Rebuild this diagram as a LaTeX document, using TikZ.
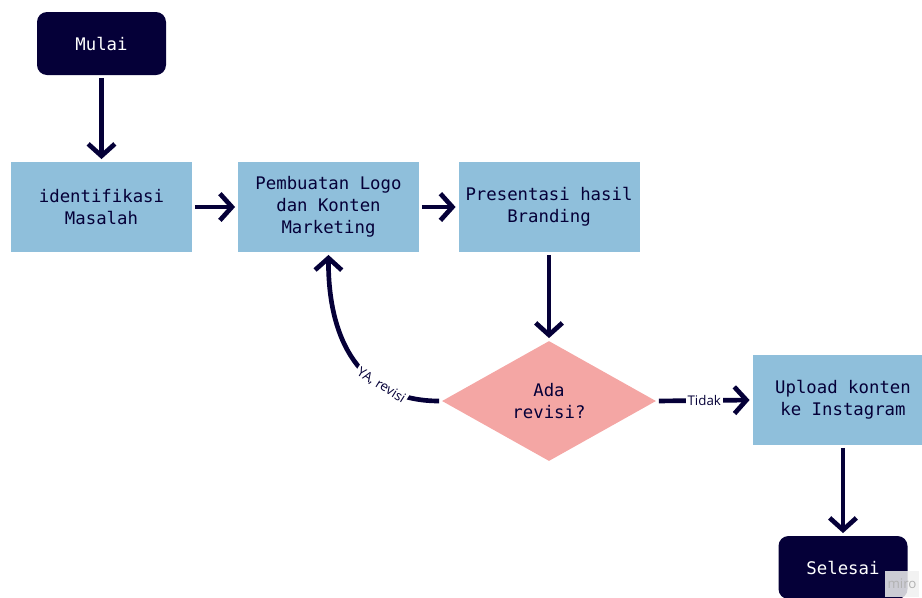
\documentclass[tikz,border=0pt]{standalone}
\usepackage{fontspec}
\setmainfont{Open Sans}
\setmonofont{DejaVu Sans Mono}
\usetikzlibrary{arrows.meta,shapes.geometric}
\definecolor{navy}{HTML}{050038}
\definecolor{lblue}{HTML}{8FBFDB}
\definecolor{salmon}{HTML}{F4A6A4}
\begin{document}
\begin{tikzpicture}[x=0.75pt,y=-0.75pt,
 boxfont/.style={font=\ttfamily\fontsize{13}{16.5}\selectfont},
 proc/.style={rectangle, fill=lblue, text=navy, minimum width=135.75pt, minimum height=67.5pt, inner sep=0pt, align=center, boxfont},
 term/.style={rectangle, rounded corners=7.5pt, fill=navy, text=white, minimum width=96.75pt, minimum height=47.25pt, inner sep=0pt, boxfont},
 dec/.style={diamond, fill=salmon, text=navy, minimum width=160.5pt, minimum height=90pt, inner sep=0pt, aspect=1.78, align=center, boxfont},
 conn/.style={draw=navy, line width=3.5pt, -{Straight Barb[length=9pt,width=20pt]}, shorten >=2pt, shorten <=2pt},
 lbl/.style={fill=white, text=navy, font=\fontsize{10}{11}\selectfont, inner sep=1.5pt}
]
\useasboundingbox (0,0) rectangle (922,597);
\node[term] (mulai) at (101.5,43.5) {Mulai};
\node[proc] (ident) at (101.5,207) {identifikasi\\Masalah};
\node[proc] (pemb) at (328.5,207) {Pembuatan Logo\\dan Konten\\Marketing};
\node[proc] (pres) at (549,207) {Presentasi hasil\\Branding};
\node[dec] (dec) at (549,401) {Ada\\revisi?};
\node[proc] (upl) at (843,400) {Upload konten\\ke Instagram};
\node[term] (sel) at (843,567.5) {Selesai};
\node[fill=gray!12, fill opacity=0.85, text opacity=1, text=gray!60, font=\fontsize{10}{11}\selectfont, inner sep=2pt, minimum height=20pt] (miro) at (902,584) {miro};

\draw[conn] (mulai.south) -- (ident.north);
\draw[conn] (ident.east) -- (pemb.west);
\draw[conn] (pemb.east) -- (pres.west);
\draw[conn] (pres.south) -- (dec.north);
\draw[conn] (dec.west) .. controls (360,401) and (328,340) .. (pemb.south)
  node[lbl, pos=0.3, sloped] {YA, revisi};
\draw[conn] (dec.east) -- (upl.west) node[lbl, pos=0.5] {Tidak};
\draw[conn] (upl.south) -- (sel.north);
\end{tikzpicture}
\end{document}
